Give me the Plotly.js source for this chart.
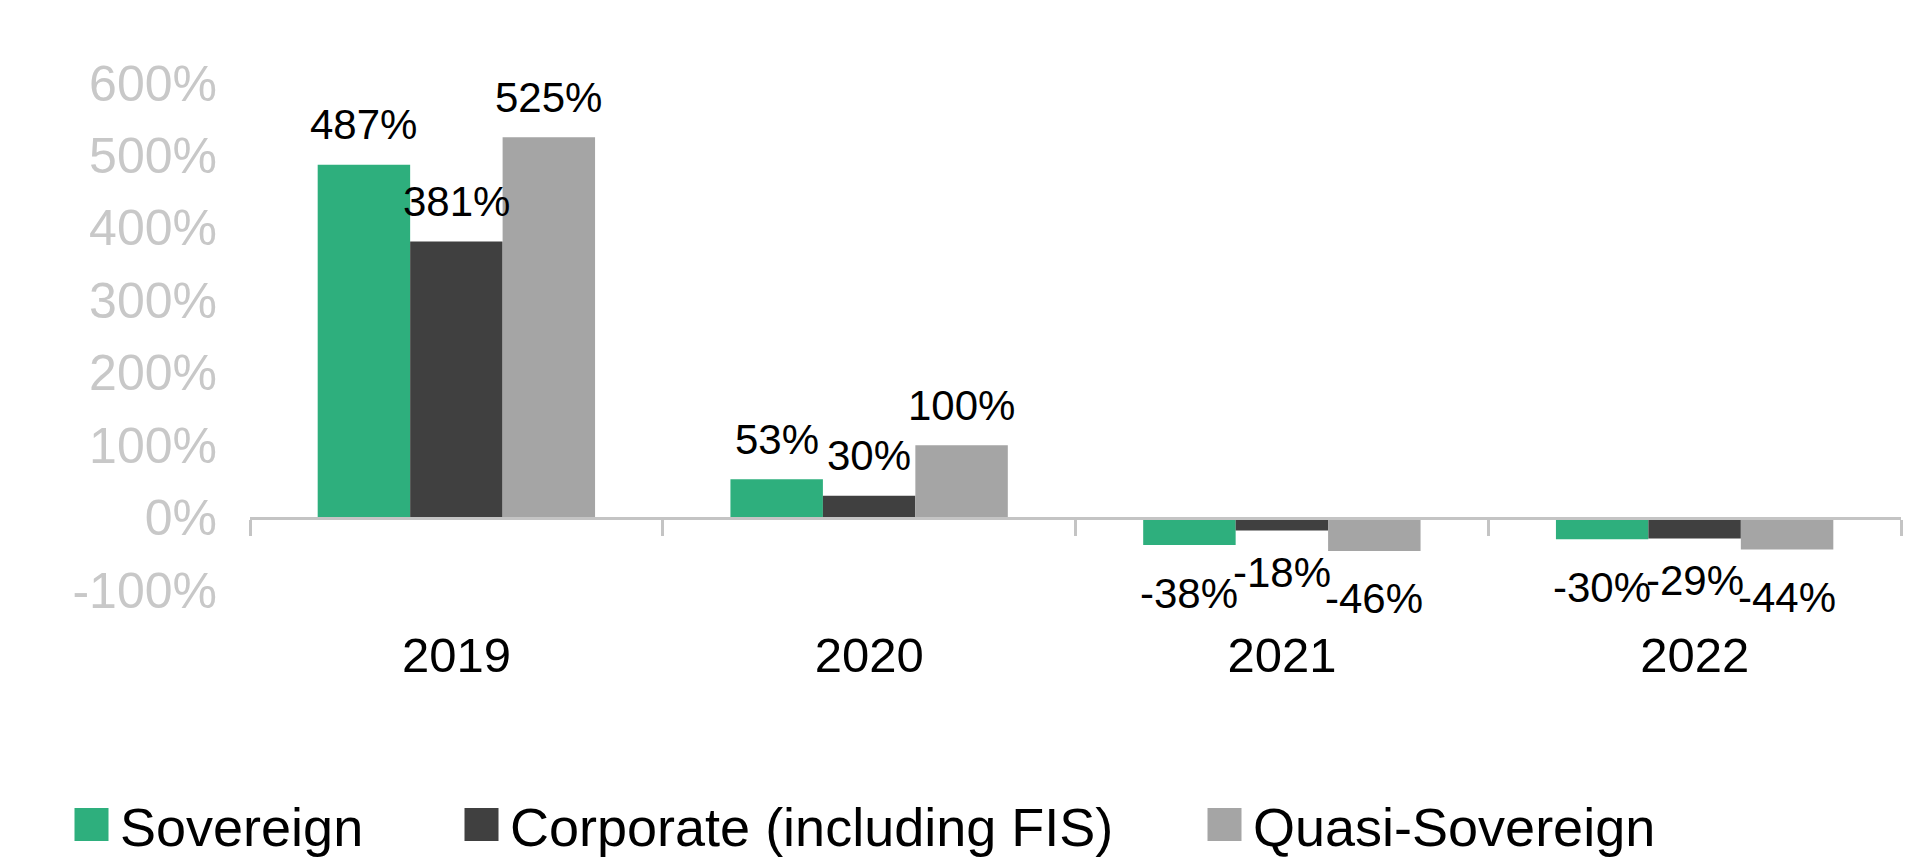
<!DOCTYPE html>
<html><head><meta charset="utf-8">
<script src="https://cdn.plot.ly/plotly-3.0.1.min.js"></script>
<style>html,body{margin:0;padding:0;background:#fff}#chart{width:1911px;height:857px}</style>
</head><body><div id="chart"></div>
<script>
// ---- data ----
const categories = ['2019', '2020', '2021', '2022'];
const sovereign = [487, 53, -38, -30];
const corporate = [381, 30, -18, -29];
const quasiSovereign = [525, 100, -46, -44];
const seriesNames = ['Sovereign', 'Corporate (including FIS)', 'Quasi-Sovereign'];
const yTickValues = [-100, 0, 100, 200, 300, 400, 500, 600];
const yTickLabels = ['-100%', '0%', '100%', '200%', '300%', '400%', '500%', '600%'];

// ---- styles ----
const colors = ['#2eaf7d', '#404040', '#a5a5a5'];
const FONT = '"Liberation Sans", Arial, Helvetica, sans-serif';
const BARGAP = 0.328;
const Y_MIN = -100, Y_MAX = 600;
const seriesData = [sovereign, corporate, quasiSovereign];
const legendIds = ['legend', 'legend2', 'legend3'];
const legendX = [63, 453, 1196];

const traces = seriesData.map((vals, k) => ({
  type: 'bar', name: seriesNames[k], x: categories, y: vals,
  marker: {color: colors[k]}, legend: legendIds[k], hoverinfo: 'skip'
}));

const barW = (1 - BARGAP) / 3;
const annotations = [];
seriesData.forEach((vals, k) => vals.forEach((v, i) => annotations.push({
  x: i + (k - 1) * barW, y: v, xref: 'x', yref: 'y', text: v + '%',
  showarrow: false, xanchor: 'center', yanchor: 'middle',
  yshift: v >= 0 ? 40 : (k === 1 ? -42 : -48),
  font: {size: 42, color: '#000', family: FONT}
})));

const layout = {
  width: 1911, height: 857,
  paper_bgcolor: '#fff', plot_bgcolor: '#fff',
  margin: {l: 250, r: 10, t: 83, b: 266.5, pad: 0},
  font: {family: FONT},
  barmode: 'group', bargap: BARGAP, bargroupgap: 0,
  xaxis: {
    type: 'category', range: [-0.5, 3.5],
    anchor: 'free', position: (0 - Y_MIN) / (Y_MAX - Y_MIN),
    showline: true, linecolor: '#c4c4c4', linewidth: 3,
    ticks: 'outside', tickson: 'boundaries', ticklen: 16, tickwidth: 3, tickcolor: '#c4c4c4',
    tickfont: {size: 49, color: '#000', family: FONT},
    ticklabelstandoff: 94,
    showgrid: false, zeroline: false
  },
  yaxis: {
    range: [Y_MIN, Y_MAX], tickmode: 'array', tickvals: yTickValues, ticktext: yTickLabels,
    showgrid: false, zeroline: false, showline: false, ticks: '',
    tickfont: {size: 50, color: '#c8c8c8', family: FONT},
    ticklabelstandoff: 32
  },
  showlegend: true,
  annotations: annotations
};
legendIds.forEach((id, k) => {
  layout[id] = {
    orientation: 'h', xref: 'container', yref: 'container',
    x: legendX[k] / 1911, xanchor: 'left', y: 1 - 825 / 857, yanchor: 'middle',
    font: {size: 54, color: '#000', family: FONT},
    itemwidth: 47, bgcolor: 'rgba(0,0,0,0)', borderwidth: 0
  };
});

function enlargeLegendSymbols(gd) {
  gd.querySelectorAll('g.legendpoints path').forEach(p => {
    p.setAttribute('d', 'M17,16.5H-17V-16.5H17Z');
  });
}

Plotly.newPlot('chart', traces, layout, {displayModeBar: false, staticPlot: true}).then(gd => {
  enlargeLegendSymbols(gd);
  setTimeout(() => enlargeLegendSymbols(gd), 50);
  gd.on('plotly_afterplot', () => enlargeLegendSymbols(gd));
});
</script>
</body></html>
